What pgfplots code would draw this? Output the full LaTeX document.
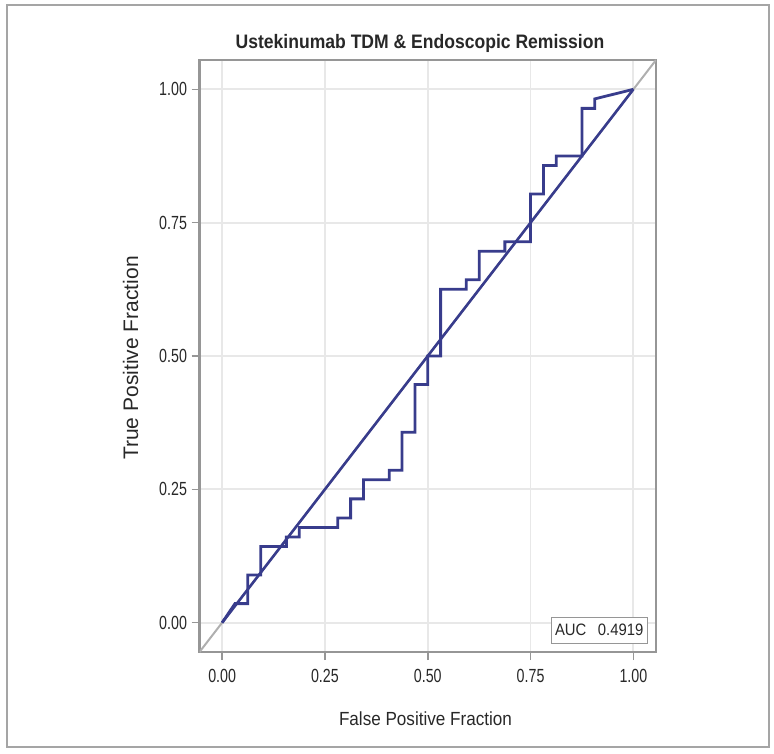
\documentclass[border=0pt]{standalone}
\usepackage{fontspec}
\setmainfont{Liberation Sans}
\newfontfamily\condA{Liberation Sans}[FakeStretch=0.9]
\newfontfamily\condB{Liberation Sans}[FakeStretch=0.75]
\usepackage{pgfplots}
\pgfplotsset{compat=1.18}
\definecolor{rocblue}{RGB}{56,60,140}
\definecolor{framegray}{RGB}{150,150,150}
\definecolor{gridgray}{RGB}{232,232,232}
\definecolor{diaggray}{RGB}{175,175,175}
\definecolor{textgray}{RGB}{40,40,40}
\begin{document}
\begin{tikzpicture}
\useasboundingbox (0,0) rectangle (774pt,753pt);
\draw[color={rgb,255:red,165;green,165;blue,165}, line width=2.5pt] (7pt,6pt) rectangle (769pt,748pt);
\node[anchor=base, text=textgray] at (420pt,704pt) {\condA\fontsize{19.5}{22}\selectfont\bfseries Ustekinumab TDM \& Endoscopic Remission};
\node[anchor=base, text=textgray] at (425.5pt,28pt) {\condA\fontsize{19}{22}\selectfont False Positive Fraction};
\node[anchor=base, rotate=90, text=textgray] at (138pt,395pt) {\fontsize{21}{24}\selectfont True Positive Fraction};
\begin{axis}[
  at={(199.5pt,101pt)}, anchor=south west,
  scale only axis, width=456.5pt, height=592pt,
  xmin=-0.055, xmax=1.055, ymin=-0.055, ymax=1.055,
  xtick={0,0.25,0.5,0.75,1}, ytick={0,0.25,0.5,0.75,1},
  xticklabels={0.00,0.25,0.50,0.75,1.00},
  yticklabels={0.00,0.25,0.50,0.75,1.00},
  xtick pos=bottom, ytick pos=left,
  tick align=outside, major tick length=8pt,
  tick style={framegray, line width=1.5pt},
  axis line style={framegray, line width=2.5pt},
  grid=major, grid style={gridgray, line width=1.8pt},
  xticklabel style={font=\condB\fontsize{19}{20}\selectfont, text=textgray, yshift=-6pt},
  yticklabel style={font=\condB\fontsize{19}{20}\selectfont, text=textgray, xshift=-1pt},
  clip=true,
]
\addplot[diaggray, line width=2pt] coordinates {(-0.055,-0.055) (1.055,1.055)};
\addplot[rocblue, line width=2.6pt] coordinates {(0,0) (1,1)};
\addplot[rocblue, line width=2.8pt, line join=miter] coordinates {
(0,0)
(0.03125,0.0357)
(0.0625,0.0357)
(0.0625,0.0893)
(0.09375,0.0893)
(0.09375,0.1429)
(0.15625,0.1429)
(0.15625,0.1607)
(0.1875,0.1607)
(0.1875,0.1786)
(0.28125,0.1786)
(0.28125,0.1964)
(0.3125,0.1964)
(0.3125,0.2321)
(0.34375,0.2321)
(0.34375,0.2679)
(0.40625,0.2679)
(0.40625,0.2857)
(0.4375,0.2857)
(0.4375,0.3571)
(0.46875,0.3571)
(0.46875,0.4464)
(0.5,0.4464)
(0.5,0.5)
(0.53125,0.5)
(0.53125,0.625)
(0.59375,0.625)
(0.59375,0.6429)
(0.625,0.6429)
(0.625,0.6964)
(0.6875,0.6964)
(0.6875,0.7143)
(0.75,0.7143)
(0.75,0.8036)
(0.78125,0.8036)
(0.78125,0.8571)
(0.8125,0.8571)
(0.8125,0.875)
(0.875,0.875)
(0.875,0.9643)
(0.90625,0.9643)
(0.90625,0.9821)
(1,1)
};
\node[draw=framegray, line width=1.5pt, fill=white, anchor=south east, minimum width=96pt, minimum height=26pt, inner sep=0pt, text=textgray, font=\condA\fontsize{16.5}{18}\selectfont]
  at ([xshift=-8pt,yshift=8pt]rel axis cs:1,0) {AUC\hspace{0.7em}0.4919};
\end{axis}
\end{tikzpicture}
\end{document}
